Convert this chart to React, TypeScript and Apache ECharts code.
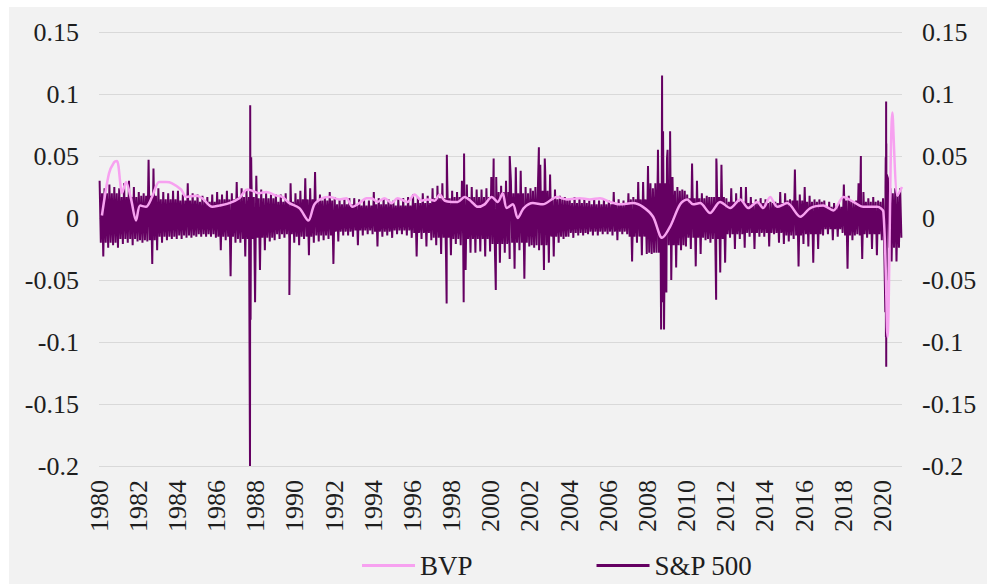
import React, { useEffect, useRef } from 'react';
import * as echarts from 'echarts';

// Horizontal (time) axis, decimal years
const X_MIN = 1980;
const X_MAX = 2021;
const X_STEP = 2;

// Shared vertical scale for both return axes
const Y_MIN = -0.2;
const Y_MAX = 0.15;
const Y_STEP = 0.05;

// BVP return: [decimal year, return]
const BVP_POINTS: [number, number][] = [
  [1980.15, 0.002], [1980.51, 0.036], [1980.77, 0.045], [1980.92, 0.046],
  [1981.18, 0.020], [1981.38, 0.029], [1981.64, 0.015], [1981.89, -0.002],
  [1982.10, 0.010], [1982.40, 0.009], [1982.71, 0.017], [1983.07, 0.029],
  [1983.43, 0.029], [1983.73, 0.028], [1984.19, 0.023], [1984.45, 0.017],
  [1984.96, 0.018], [1985.27, 0.016], [1985.78, 0.009], [1986.14, 0.010],
  [1986.65, 0.012], [1987.16, 0.016], [1987.57, 0.023], [1987.83, 0.022],
  [1988.18, 0.020], [1988.54, 0.021], [1989.05, 0.018], [1989.36, 0.017],
  [1989.72, 0.012], [1990.23, 0.008], [1990.69, -0.002], [1991.00, 0.011],
  [1991.41, 0.016], [1991.76, 0.017], [1992.28, 0.015], [1992.63, 0.016],
  [1992.94, 0.009], [1993.30, 0.012], [1993.66, 0.016], [1993.91, 0.016],
  [1994.22, 0.013], [1994.58, 0.016], [1994.94, 0.012], [1995.24, 0.016],
  [1995.75, 0.013], [1996.11, 0.019], [1996.47, 0.014], [1996.78, 0.015],
  [1997.14, 0.014], [1997.39, 0.019], [1997.65, 0.014], [1998.01, 0.013],
  [1998.31, 0.013], [1998.67, 0.017], [1999.03, 0.013], [1999.34, 0.009],
  [1999.69, 0.011], [2000.05, 0.017], [2000.36, 0.013], [2000.61, 0.020],
  [2000.82, 0.008], [2001.13, 0.011], [2001.38, 0.000], [2001.69, 0.008],
  [2002.15, 0.012], [2002.66, 0.011], [2003.38, 0.017], [2003.89, 0.015],
  [2004.55, 0.016], [2005.06, 0.015], [2005.58, 0.016], [2006.09, 0.013],
  [2006.60, 0.011], [2007.26, 0.012], [2007.77, 0.009], [2008.29, 0.001],
  [2008.75, -0.016], [2009.16, -0.007], [2009.67, 0.011], [2010.03, 0.015],
  [2010.33, 0.011], [2010.69, 0.012], [2011.20, 0.004], [2011.71, 0.013],
  [2012.23, 0.008], [2012.74, 0.015], [2013.15, 0.008], [2013.61, 0.013],
  [2013.91, 0.008], [2014.27, 0.017], [2014.63, 0.009], [2015.14, 0.012],
  [2015.81, 0.001], [2016.32, 0.008], [2016.98, 0.010], [2017.49, 0.006],
  [2018.01, 0.017], [2018.52, 0.013], [2019.03, 0.009], [2019.74, 0.009],
  [2020.05, 0.005], [2020.26, -0.096], [2020.51, 0.085], [2020.77, 0.018],
  [2021.00, 0.025],
];

// S&P 500 daily returns, summarised per quarter (in %): largest gain, largest loss
const SPX_QUARTER_HIGH_PCT = [
  3.0, 2.4, 2.7, 2.5, // 1980
  2.4, 2.8, 3.0, 2.5, // 1981
  2.1, 2.0, 4.7, 4.0, // 1982
  2.4, 2.1, 2.0, 2.2, // 1983
  2.2, 1.9, 2.8, 2.0, // 1984
  1.9, 1.8, 1.7, 1.9, // 1985
  2.1, 1.9, 2.2, 2.0, // 1986
  2.9, 2.4, 2.3, 3.3, // 1987
  3.4, 2.3, 2.0, 1.9, // 1988
  1.9, 1.9, 2.0, 2.8, // 1989
  2.0, 2.2, 3.2, 2.4, // 1990
  3.7, 1.9, 1.7, 2.1, // 1991
  1.7, 1.5, 1.5, 1.6, // 1992
  1.6, 1.5, 1.5, 1.4, // 1993
  2.1, 1.6, 1.6, 1.5, // 1994
  1.4, 1.5, 1.6, 1.7, // 1995
  1.9, 1.7, 2.0, 1.8, // 1996
  2.4, 2.6, 2.8, 3.0, // 1997
  2.2, 2.1, 3.0, 2.7, // 1998
  2.5, 2.3, 2.3, 2.4, // 1999
  3.3, 3.3, 2.6, 3.0, // 2000
  3.0, 4.1, 3.8, 2.5, // 2001
  2.4, 2.5, 4.3, 3.8, // 2002
  3.5, 2.3, 1.8, 1.7, // 2003
  1.6, 1.7, 1.6, 1.5, // 2004
  1.4, 1.6, 1.4, 1.5, // 2005
  1.4, 2.1, 1.5, 1.4, // 2006
  2.0, 1.7, 2.9, 2.9, // 2007
  4.2, 2.4, 4.0, 6.5, // 2008
  5.5, 3.3, 2.5, 2.3, // 2009
  1.9, 4.4, 3.0, 2.0, // 2010
  1.8, 1.7, 4.4, 4.3, // 2011
  1.6, 2.4, 2.0, 2.5, // 2012
  2.5, 1.7, 1.5, 1.6, // 2013
  1.5, 1.3, 1.3, 2.1, // 2014
  2.0, 1.5, 3.9, 1.9, // 2015
  2.5, 1.8, 1.5, 1.5, // 2016
  1.4, 1.3, 1.2, 1.2, // 2017
  2.7, 1.8, 1.3, 2.8, // 2018
  2.1, 1.6, 1.7, 1.4, // 2019
  1.6, 3.2, 2.0, 1.8, // 2020
];

const SPX_QUARTER_LOW_PCT = [
  -3.1, -2.4, -2.2, -2.4, // 1980
  -2.1, -2.0, -2.2, -1.9, // 1981
  -2.0, -1.9, -3.7, -2.6, // 1982
  -2.0, -1.8, -1.7, -1.7, // 1983
  -1.7, -1.6, -1.6, -1.5, // 1984
  -1.5, -1.5, -1.5, -1.6, // 1985
  -2.6, -1.8, -4.7, -2.0, // 1986
  -2.0, -3.1, -2.2, -6.8, // 1987
  -4.2, -2.6, -1.9, -1.8, // 1988
  -1.7, -1.6, -1.7, -2.0, // 1989
  -2.2, -1.7, -3.0, -2.0, // 1990
  -1.9, -1.8, -1.7, -3.7, // 1991
  -1.9, -1.4, -1.4, -1.5, // 1992
  -2.2, -1.4, -1.3, -1.3, // 1993
  -2.3, -1.5, -1.4, -1.6, // 1994
  -1.3, -1.3, -1.4, -1.6, // 1995
  -3.1, -1.7, -2.3, -1.8, // 1996
  -2.2, -2.9, -3.1, -3.0, // 1997
  -2.1, -2.2, -4.2, -2.8, // 1998
  -2.8, -2.7, -3.1, -2.7, // 1999
  -2.9, -3.6, -2.8, -3.3, // 2000
  -4.1, -2.6, -4.9, -2.3, // 2001
  -2.4, -2.6, -4.2, -3.6, // 2002
  -3.1, -2.0, -1.7, -1.5, // 2003
  -1.6, -1.4, -1.4, -1.3, // 2004
  -1.4, -1.4, -1.3, -1.3, // 2005
  -1.4, -1.8, -1.3, -1.3, // 2006
  -3.5, -2.0, -3.0, -2.9, // 2007
  -2.9, -2.8, -4.7, -6.0, // 2008
  -5.0, -4.0, -2.6, -2.3, // 2009
  -2.5, -3.9, -2.9, -1.8, // 2010
  -2.0, -1.9, -4.4, -3.6, // 2011
  -1.6, -2.5, -1.7, -2.4, // 2012
  -1.5, -2.5, -1.5, -1.5, // 2013
  -2.3, -1.3, -2.0, -2.1, // 2014
  -1.9, -1.7, -3.9, -2.1, // 2015
  -2.3, -3.6, -2.5, -1.4, // 2016
  -1.3, -1.8, -1.5, -1.2, // 2017
  -4.1, -1.8, -1.3, -3.3, // 2018
  -1.6, -2.5, -3.0, -1.8, // 2019
  -3.4, -3.5, -3.5, -1.6, // 2020
];

// Typical size of an ordinary day's move in each year (in %)
const SPX_CORE_PCT = [
  2.0, 1.7, 1.8, 1.5, 1.4, 1.3, 1.5, 1.7, 1.6, 1.3, // 1980-1989
  1.5, 1.4, 1.1, 1.0, 1.1, 1.0, 1.2, 1.6, 1.7, 1.7, // 1990-1999
  2.1, 2.0, 2.2, 1.5, 1.2, 1.1, 1.1, 1.5, 2.8, 2.2, // 2000-2009
  1.6, 1.7, 1.3, 1.2, 1.2, 1.4, 1.3, 0.9, 1.4, 1.3, // 2010-2019
  2.4, // 2020
];

// Exceptional single-day moves: [decimal year, return in %]
const SPX_EXTREME_DAYS: [number, number][] = [
  [1987.71, -20.0], [1987.72, 9.1], [1987.74, -8.2], [1987.77, 4.9],
  [1989.72, -6.2],
  [1997.75, -6.9], [1997.76, 5.1],
  [1998.62, -6.8], [1998.64, 5.2],
  [2000.15, 4.8], [2000.26, -5.8], [2000.97, 5.0],
  [2002.46, 5.7], [2002.76, 4.8],
  [2008.54, 5.5], [2008.70, -9.0], [2008.75, 11.5], [2008.77, -6.8],
  [2008.80, 7.0], [2008.85, -9.0], [2009.00, 4.8], [2009.16, 7.0],
  [2011.51, -6.6], [2011.52, 4.8],
  [2018.90, 5.0],
  [2020.15, -7.6], [2020.17, 4.9], [2020.18, -9.6], [2020.19, 9.4],
  [2020.195, -12.0], [2020.20, 6.0], [2020.21, -5.0], [2020.22, 3.5],
];

const BVP_COLOR = '#f7a1f0';
const SPX_COLOR = '#650062';
const TEXT_COLOR = '#1e1e1e';
const FONT = "'Liberation Serif', 'Times New Roman', serif";

function buildSpxSeries(): [number, number][] {
  const pts: [number, number][] = [];
  SPX_QUARTER_HIGH_PCT.forEach((hi, q) => {
    const t0 = X_MIN + q / 4;
    const core = SPX_CORE_PCT[Math.floor(q / 4)];
    const lo = SPX_QUARTER_LOW_PCT[q];
    pts.push([t0 + 0.5 / 16, hi / 100]);
    pts.push([t0 + 1.5 / 16, -core / 100]);
    pts.push([t0 + 2.5 / 16, core / 100]);
    pts.push([t0 + 3.5 / 16, lo / 100]);
  });
  SPX_EXTREME_DAYS.forEach(([t, v]) => pts.push([t, v / 100]));
  pts.sort((a, b) => a[0] - b[0]);
  return pts;
}

export default function App() {
  const ref = useRef<HTMLDivElement>(null);

  useEffect(() => {
    if (!ref.current) return;
    const chart = echarts.init(ref.current, undefined, { renderer: 'svg' });

    const valueAxis = (position: 'left' | 'right', grid: boolean) => ({
      type: 'value',
      position,
      min: Y_MIN,
      max: Y_MAX,
      interval: Y_STEP,
      axisLine: { show: false },
      axisTick: { show: false },
      axisLabel: {
        margin: 20,
        fontSize: 26,
        color: TEXT_COLOR,
        fontFamily: FONT,
      },
      splitLine: { show: grid, lineStyle: { color: '#d9d9d9', width: 1 } },
    });

    chart.setOption({
      animation: false,
      backgroundColor: '#f2f2f2',
      textStyle: { fontFamily: FONT },
      grid: { left: 90, right: 85, top: 25, bottom: 118 },
      legend: {
        data: ['BVP', 'S&P 500'],
        left: 348,
        top: 540,
        icon: 'rect',
        itemWidth: 53,
        itemHeight: 3,
        itemGap: 124,
        textStyle: { fontSize: 27, color: TEXT_COLOR, fontFamily: FONT },
      },
      xAxis: {
        type: 'value',
        min: X_MIN,
        max: X_MAX,
        interval: X_STEP,
        axisLine: { show: false, onZero: false },
        axisTick: { show: false },
        splitLine: { show: false },
        axisLabel: {
          rotate: 90,
          margin: 14,
          fontSize: 26,
          color: TEXT_COLOR,
          fontFamily: FONT,
          formatter: (v: number) => (v % 2 === 0 ? String(v) : ''),
        },
      },
      yAxis: [valueAxis('left', true), valueAxis('right', false)],
      series: [
        {
          name: 'S&P 500',
          type: 'line',
          yAxisIndex: 0,
          data: buildSpxSeries(),
          symbol: 'none',
          lineStyle: { color: SPX_COLOR, width: 2 },
          itemStyle: { color: SPX_COLOR },
          z: 2,
        },
        {
          name: 'BVP',
          type: 'line',
          yAxisIndex: 1,
          data: BVP_POINTS,
          symbol: 'none',
          smooth: 0.3,
          lineStyle: { color: BVP_COLOR, width: 2.5 },
          itemStyle: { color: BVP_COLOR },
          z: 3,
        },
      ],
    });

    return () => chart.dispose();
  }, []);

  return (
    <div
      ref={ref}
      style={{ position: 'absolute', left: 9, top: 7, width: 978, height: 577 }}
    />
  );
}
